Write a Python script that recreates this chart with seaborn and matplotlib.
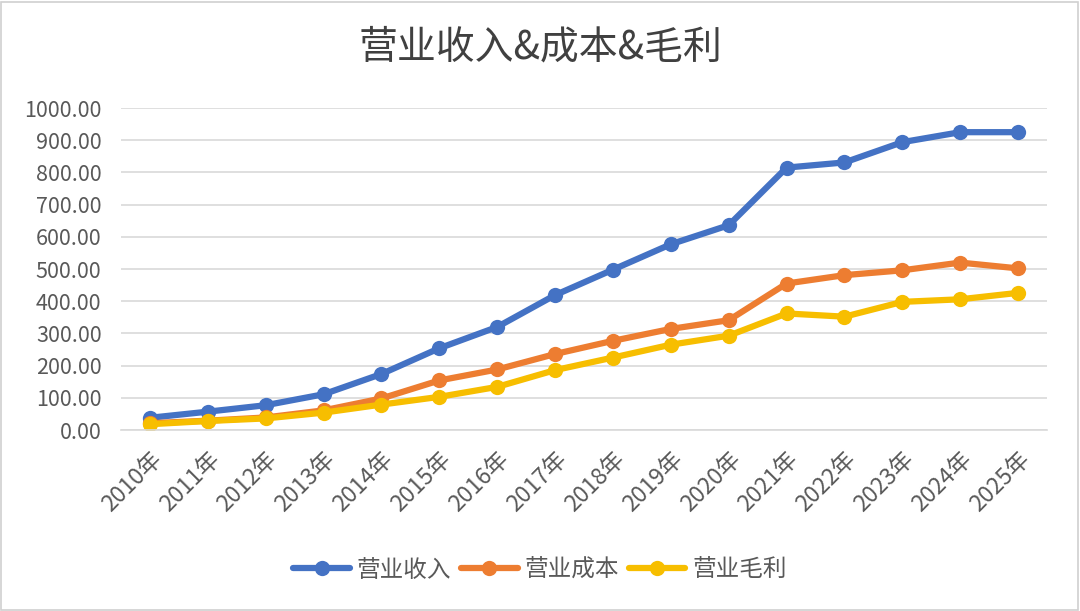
import matplotlib
matplotlib.use("Agg")
import matplotlib.pyplot as plt
import seaborn as sns
import pandas as pd
from matplotlib.patches import Rectangle

years = ["2010年", "2011年", "2012年", "2013年", "2014年", "2015年", "2016年", "2017年",
         "2018年", "2019年", "2020年", "2021年", "2022年", "2023年", "2024年", "2025年"]
revenue = [38, 57, 77, 111, 174, 254, 320, 419, 498, 577, 636, 815, 831, 894, 925, 925]
cost = [21, 29, 39, 61, 98, 154, 188, 236, 277, 314, 341, 455, 481, 496, 520, 502]
profit = [18, 28, 36, 54, 79, 103, 134, 186, 225, 265, 293, 362, 352, 398, 406, 426]
series_names = ["营业收入", "营业成本", "营业毛利"]
colors = ["#4472C4", "#ED7D31", "#F7BE00"]
title = "营业收入&成本&毛利"

sns.set_theme(style="white")
plt.rcParams['font.family'] = ['Noto Sans CJK SC', 'DejaVu Sans']

df = pd.DataFrame({"年份": years, series_names[0]: revenue,
                   series_names[1]: cost, series_names[2]: profit})
long = df.melt(id_vars="年份", var_name="系列", value_name="值")

fig = plt.figure(figsize=(10.8, 6.11), dpi=100)
ax = fig.add_axes([0.112, 0.2962, 0.8575, 0.527])

sns.lineplot(data=long, x="年份", y="值", hue="系列", palette=colors,
             marker="o", markersize=11, markeredgewidth=0, linewidth=4.5,
             ax=ax, sort=False)

ax.set_xlim(-0.5, len(years) - 0.5)
ax.set_ylim(0, 1000)
ax.set_yticks(range(0, 1001, 100))
ax.set_yticklabels([f"{v:.2f}" for v in range(0, 1001, 100)])
ax.set_xlabel("")
ax.set_ylabel("")
ax.grid(axis="y", color="#d9d9d9", linewidth=1.2)
ax.grid(axis="x", visible=False)
ax.set_axisbelow(True)
for s in ["top", "right", "left"]:
    ax.spines[s].set_visible(False)
ax.spines["bottom"].set_color("#d9d9d9")
ax.spines["bottom"].set_linewidth(1.2)
ax.tick_params(axis="y", length=0, labelsize=15.5, labelcolor="#595959", pad=14)
ax.tick_params(axis="x", length=0, labelsize=16.5, labelcolor="#595959", pad=13)
for lbl in ax.get_xticklabels():
    lbl.set_rotation(45)
    lbl.set_ha("right")
    lbl.set_rotation_mode("anchor")

ax.get_legend().remove()
handles, labels = ax.get_legend_handles_labels()
fig.legend(handles, labels, loc="center", bbox_to_anchor=(0.5, 0.067), ncol=3,
           frameon=False, fontsize=17, labelcolor="#595959", handlelength=2.4,
           columnspacing=0.4, handletextpad=0.3)

fig.text(0.5, 0.922, title, ha="center", va="center", fontsize=28, color="#404040")

fig.patches.append(Rectangle((0.001, 0.002), 0.997, 0.995, transform=fig.transFigure,
                             fill=False, edgecolor="#d0d0d0", linewidth=1.2))

fig.savefig("out.png", dpi=100)
